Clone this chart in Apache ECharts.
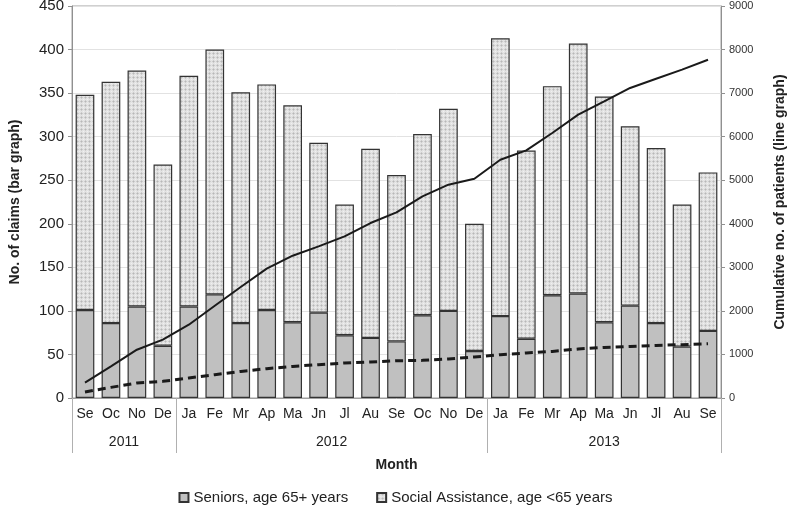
<!DOCTYPE html>
<html>
<head>
<meta charset="utf-8">
<script src="https://cdn.jsdelivr.net/npm/echarts@6/dist/echarts.min.js"></script>
<style>html,body{margin:0;padding:0;background:#fff}#c{width:791px;height:507px}</style>
</head>
<body>
<div id="c"></div>
<script>
const months = ['Se','Oc','No','De','Ja','Fe','Mr','Ap','Ma','Jn','Jl','Au','Se','Oc','No','De','Ja','Fe','Mr','Ap','Ma','Jn','Jl','Au','Se'];
const years = ['2011','2012','2013'];
const yearCenters = [2, 10, 20.5];
const yearBounds = [0, 4, 16, 25];
const seniors = [101,86,105,60,105,119,86,101,87,98,72,69,65,95,100,54,94,68,118,120,87,106,86,59,77];
const totals = [348,363,376,268,370,400,351,360,336,293,222,286,256,303,332,200,413,284,358,407,346,312,287,222,259];
const social = totals.map((t,i)=>t-seniors[i]);
const cumTotal = [351,726,1109,1339,1683,2119,2548,2969,3267,3481,3711,4017,4261,4629,4897,5035,5471,5685,6084,6505,6810,7118,7331,7538,7767];
const cumSeniors = [138,244,344,382,459,535,611,673,726,765,803,826,856,864,895,941,994,1033,1070,1125,1162,1185,1208,1224,1247];

function makePattern(){
  const cv = document.createElement('canvas');
  cv.width = 4; cv.height = 4;
  const ctx = cv.getContext('2d');
  ctx.fillStyle = '#e3e3e3'; ctx.fillRect(0,0,4,4);
  ctx.fillStyle = '#cbcbcb';
  ctx.fillRect(1,0,1,1); ctx.fillRect(0,1,1,1); ctx.fillRect(2,1,1,1); ctx.fillRect(1,2,1,1);
  ctx.fillStyle = '#b8b8b8';
  ctx.fillRect(1,1,1,1);
  ctx.fillStyle = '#f0f0f0';
  ctx.fillRect(3,3,1,1);
  return cv;
}
const pat = {image: makePattern(), repeat: 'repeat'};
const FF = '"Liberation Sans", Arial, sans-serif';

const chart = echarts.init(document.getElementById('c'));
chart.setOption({
  animation: false,
  textStyle: {fontFamily: FF},
  grid: {left: 72, right: 70, top: 6, bottom: 109, show: true, borderColor: '#a0a0a0', borderWidth: 1,
         outerBoundsMode: 'none', containLabel: false},
  legend: {
    data: ['Seniors, age 65+ years', 'Social Assistance, age <65 years'],
    left: 'center', top: 485, itemWidth: 9, itemHeight: 9, itemGap: 28, icon: 'rect',
    textStyle: {fontSize: 15, color: '#222', fontFamily: FF}
  },
  xAxis: [
    {type: 'category', data: months, gridIndex: 0,
     axisLine: {lineStyle: {color: '#a0a0a0'}}, axisTick: {show: false},
     axisLabel: {fontSize: 14, color: '#222', margin: 9, interval: 0}},
    {type: 'value', min: 0, max: 25, gridIndex: 0, position: 'bottom',
     name: 'Month', nameLocation: 'middle', nameGap: 60,
     nameTextStyle: {fontSize: 14, fontWeight: 'bold', color: '#222'},
     axisLine: {show: false}, splitLine: {show: false},
     axisTick: {show: true, customValues: yearBounds, length: 55, lineStyle: {color: '#b0b0b0'}},
     axisLabel: {customValues: yearCenters, margin: 37, fontSize: 14, color: '#222',
       formatter: function(v){ const i = yearCenters.indexOf(v); return i >= 0 ? years[i] : ''; }}}
  ],
  yAxis: [
    {type: 'value', min: 0, max: 450, interval: 50,
     name: 'No. of claims (bar graph)', nameLocation: 'middle', nameGap: 50,
     nameTextStyle: {fontSize: 14, fontWeight: 'bold', color: '#222'},
     axisLine: {show: true, lineStyle: {color: '#909090'}},
     axisTick: {show: true, length: 4, lineStyle: {color: '#909090'}},
     axisLabel: {fontSize: 15, color: '#222', margin: 8},
     splitLine: {lineStyle: {color: '#e2e2e2'}}},
    {type: 'value', min: 0, max: 9000, interval: 1000, position: 'right',
     name: 'Cumulative no. of patients (line graph)', nameLocation: 'middle', nameGap: 52,
     nameRotate: 90,
     nameTextStyle: {fontSize: 14, fontWeight: 'bold', color: '#222'},
     axisLine: {show: true, lineStyle: {color: '#909090'}},
     axisTick: {show: true, length: 4, lineStyle: {color: '#909090'}},
     axisLabel: {fontSize: 11, color: '#333', margin: 8, formatter: function(v){ return String(v); }},
     splitLine: {show: false}}
  ],
  series: [
    {name: 'Seniors, age 65+ years', type: 'bar', stack: 'c', data: seniors, barWidth: '72%',
     itemStyle: {color: '#c0c0c0', borderColor: '#333', borderWidth: 1.2}},
    {name: 'Social Assistance, age <65 years', type: 'bar', stack: 'c', data: social, barWidth: '72%',
     itemStyle: {color: pat, borderColor: '#333', borderWidth: 1.2}},
    {name: 'cum', type: 'line', yAxisIndex: 1, data: cumTotal, symbol: 'none',
     lineStyle: {color: '#1a1a1a', width: 2}, z: 5},
    {name: 'cumS', type: 'line', yAxisIndex: 1, data: cumSeniors, symbol: 'none',
     lineStyle: {color: '#1a1a1a', width: 3, type: [8, 5]}, z: 5}
  ]
});
</script>
</body>
</html>
